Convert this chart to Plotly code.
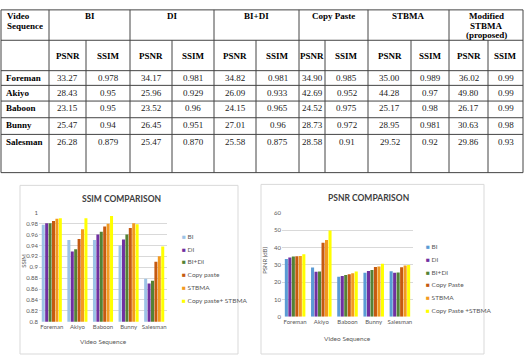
import plotly.graph_objects as go

W, H = 524, 357

# ---------------- data ----------------
sequences = ["Foreman", "Akiyo", "Baboon", "Bunny", "Salesman"]

# table (text as printed)
table_groups = ["BI", "DI", "BI+DI", "Copy Paste", "STBMA", "Modified<br>STBMA<br>(proposed)"]
bi_psnr_t = ["33.27", "28.43", "23.15", "25.47", "26.28"]
bi_ssim_t = ["0.978", "0.95", "0.95", "0.94", "0.879"]
di_psnr_t = ["34.17", "25.96", "23.52", "26.45", "25.47"]
di_ssim_t = ["0.981", "0.929", "0.96", "0.951", "0.870"]
bidi_psnr_t = ["34.82", "26.09", "24.15", "27.01", "25.58"]
bidi_ssim_t = ["0.981", "0.933", "0.965", "0.96", "0.875"]
cp_psnr_t = ["34.90", "42.69", "24.52", "28.73", "28.58"]
cp_ssim_t = ["0.985", "0.952", "0.975", "0.972", "0.91"]
stbma_psnr_t = ["35.00", "44.28", "25.17", "28.95", "29.52"]
stbma_ssim_t = ["0.989", "0.97", "0.98", "0.981", "0.92"]
mod_psnr_t = ["36.02", "49.80", "26.17", "30.63", "29.86"]
mod_ssim_t = ["0.99", "0.99", "0.99", "0.98", "0.93"]

# SSIM chart
ssim_names = ["BI", "DI", "BI+DI", "Copy paste", "STBMA", "Copy paste+ STBMA"]
ssim_bi = [0.978, 0.95, 0.95, 0.94, 0.879]
ssim_di = [0.981, 0.929, 0.96, 0.951, 0.870]
ssim_bidi = [0.981, 0.933, 0.965, 0.96, 0.875]
ssim_cp = [0.985, 0.952, 0.975, 0.972, 0.91]
ssim_stbma = [0.989, 0.97, 0.98, 0.981, 0.92]
ssim_cpst = [0.99, 0.99, 0.994, 0.979, 0.938]

# PSNR chart
psnr_names = ["BI", "DI", "BI+DI", "Copy Paste", "STBMA", "Copy Paste +STBMA"]
psnr_bi = [33.27, 28.43, 23.15, 25.47, 26.28]
psnr_di = [34.17, 25.96, 23.52, 26.45, 25.47]
psnr_bidi = [34.82, 26.09, 24.15, 27.01, 25.58]
psnr_cp = [34.90, 42.69, 24.52, 28.73, 28.58]
psnr_stbma = [35.00, 44.28, 25.17, 28.95, 29.52]
psnr_cpst = [36.02, 49.80, 26.17, 30.63, 29.86]

ssim_colors = ["#9DC3E6", "#7030A0", "#548235", "#C55A11", "#F39A1F", "#FFFF00"]
psnr_colors = ["#5B9BD5", "#7030A0", "#548235", "#C55A11", "#F39A1F", "#FFFF00"]

# ---------------- helpers ----------------
def px(x):
    return x / W

def py(y):
    return 1 - y / H

fig = go.Figure()

ssim_series = [ssim_bi, ssim_di, ssim_bidi, ssim_cp, ssim_stbma, ssim_cpst]
psnr_series = [psnr_bi, psnr_di, psnr_bidi, psnr_cp, psnr_stbma, psnr_cpst]

for name, vals, col in zip(ssim_names, ssim_series, ssim_colors):
    fig.add_trace(go.Bar(x=sequences, y=vals, name=name, marker_color=col,
                         marker_line_width=0, xaxis="x", yaxis="y", showlegend=False))
for name, vals, col in zip(psnr_names, psnr_series, psnr_colors):
    fig.add_trace(go.Bar(x=sequences, y=vals, name=name, marker_color=col,
                         marker_line_width=0, xaxis="x2", yaxis="y2", showlegend=False))

shapes = []
ann = []

# ---------------- table ----------------
col_edges = [1, 49, 86, 130, 172, 214, 256, 299, 325, 368, 411, 449, 488, 523]
row_edges = [6, 37, 68, 83, 99, 116, 133, 172]
line_col = "#444444"

for y in row_edges:
    shapes.append(dict(type="line", xref="paper", yref="paper",
                       x0=px(col_edges[0]), x1=px(col_edges[-1]), y0=py(y), y1=py(y),
                       line=dict(color=line_col, width=1)))
for i, x in enumerate(col_edges):
    top = row_edges[0] if (i % 2 == 1 or i == 0 or i == len(col_edges) - 1) else row_edges[1]
    shapes.append(dict(type="line", xref="paper", yref="paper",
                       x0=px(x), x1=px(x), y0=py(top), y1=py(row_edges[-1]),
                       line=dict(color=line_col, width=1)))

tfont = dict(family="Liberation Serif", size=9, color="#000000")
LINE_H = 10


def header_text(text, x, y0, anchor):
    for j, part in enumerate(text.split("<br>")):
        ann.append(dict(text="<b>" + part + "</b>", x=px(x), y=py(y0 + LINE_H * j),
                        xanchor=anchor, yanchor="middle", showarrow=False,
                        font=tfont, xref="paper", yref="paper"))


header_text("Video<br>Sequence", col_edges[0] + 4, row_edges[0] + 6, "left")
for g, name in enumerate(table_groups):
    xl = col_edges[1 + 2 * g]
    xr = col_edges[3 + 2 * g]
    header_text(name, (xl + xr) / 2, row_edges[0] + 6, "center")
    for k, sub in enumerate(["PSNR", "SSIM"]):
        cx = (col_edges[1 + 2 * g + k] + col_edges[2 + 2 * g + k]) / 2
        ann.append(dict(text="<b>" + sub + "</b>", x=px(cx), y=py(53),
                        xanchor="center", yanchor="middle", showarrow=False,
                        font=tfont, xref="paper", yref="paper"))

table_cols = [bi_psnr_t, bi_ssim_t, di_psnr_t, di_ssim_t, bidi_psnr_t, bidi_ssim_t,
              cp_psnr_t, cp_ssim_t, stbma_psnr_t, stbma_ssim_t, mod_psnr_t, mod_ssim_t]
for r, seq in enumerate(sequences):
    ytxt = row_edges[2 + r] + 7.5
    ann.append(dict(text="<b>" + seq + "</b>", x=px(col_edges[0] + 3), y=py(ytxt),
                    xanchor="left", yanchor="middle", showarrow=False,
                    font=tfont, xref="paper", yref="paper"))
    for c, colvals in enumerate(table_cols):
        cx = (col_edges[1 + c] + col_edges[2 + c]) / 2
        ann.append(dict(text=colvals[r], x=px(cx), y=py(ytxt),
                        xanchor="center", yanchor="middle", showarrow=False,
                        font=dict(family="Liberation Serif", size=9, color="#222222"),
                        xref="paper", yref="paper"))

# ---------------- chart boxes ----------------
box_col = "#D9D9D9"
shapes.append(dict(type="rect", xref="paper", yref="paper", x0=px(20), x1=px(238),
                   y0=py(357), y1=py(185), line=dict(color=box_col, width=1)))
shapes.append(dict(type="rect", xref="paper", yref="paper", x0=px(261), x1=px(484),
                   y0=py(357), y1=py(184), line=dict(color=box_col, width=1)))

gfont = "Lato"
tc = "#595959"

ann.append(dict(text="<b>SSIM COMPARISON</b>", x=px(121), y=py(199), showarrow=False,
                xanchor="center", yanchor="middle", font=dict(family=gfont, size=8.5, color="#404040"),
                xref="paper", yref="paper"))
ann.append(dict(text="<b>PSNR COMPARISON</b>", x=px(368), y=py(198), showarrow=False,
                xanchor="center", yanchor="middle", font=dict(family=gfont, size=8.5, color="#404040"),
                xref="paper", yref="paper"))
ann.append(dict(text="Video Sequence", x=px(103), y=py(344), showarrow=False,
                xanchor="center", yanchor="middle", font=dict(family=gfont, size=6.5, color=tc),
                xref="paper", yref="paper"))
ann.append(dict(text="Video Sequence", x=px(347), y=py(341), showarrow=False,
                xanchor="center", yanchor="middle", font=dict(family=gfont, size=6.5, color=tc),
                xref="paper", yref="paper"))
ann.append(dict(text="SSIM", x=px(24), y=py(262), showarrow=False, textangle=-90,
                xanchor="center", yanchor="middle", font=dict(family=gfont, size=6, color=tc),
                xref="paper", yref="paper"))
ann.append(dict(text="PSNR (dB)", x=px(265), y=py(262), showarrow=False, textangle=-90,
                xanchor="center", yanchor="middle", font=dict(family=gfont, size=6, color=tc),
                xref="paper", yref="paper"))

# legends
for i, (name, col) in enumerate(zip(ssim_names, ssim_colors)):
    ann.append(dict(text='<span style="color:%s">■</span> %s' % (col, name),
                    x=px(180), y=py(237 + 13 * i), showarrow=False, xanchor="left", yanchor="middle",
                    font=dict(family=gfont, size=6.5, color=tc), xref="paper", yref="paper"))
for i, (name, col) in enumerate(zip(psnr_names, psnr_colors)):
    ann.append(dict(text='<span style="color:%s">■</span> %s' % (col, name),
                    x=px(424), y=py(247 + 13.2 * i), showarrow=False, xanchor="left", yanchor="middle",
                    font=dict(family=gfont, size=6.5, color=tc), xref="paper", yref="paper"))

xaxis_common = dict(showline=False, ticks="", showgrid=False, zeroline=False,
                    tickfont=dict(family=gfont, size=6, color=tc))
yaxis_common = dict(showline=False, ticks="", gridcolor="#D9D9D9", zeroline=False,
                    tickfont=dict(family=gfont, size=6, color=tc))

fig.update_layout(
    width=W, height=H, margin=dict(l=0, r=0, t=0, b=0),
    paper_bgcolor="white", plot_bgcolor="white",
    barmode="group", bargap=0.2, bargroupgap=0.12,
    xaxis=dict(domain=[px(39), px(167)], anchor="y", **xaxis_common),
    yaxis=dict(domain=[py(324), py(213)], anchor="x", range=[0.8, 1.0], dtick=0.02, **yaxis_common),
    xaxis2=dict(domain=[px(282), px(413)], anchor="y2", **xaxis_common),
    yaxis2=dict(domain=[py(319), py(213)], anchor="x2", range=[0, 60], dtick=10, **yaxis_common),
    shapes=shapes, annotations=ann, showlegend=False,
)

fig.write_html("out.html")
